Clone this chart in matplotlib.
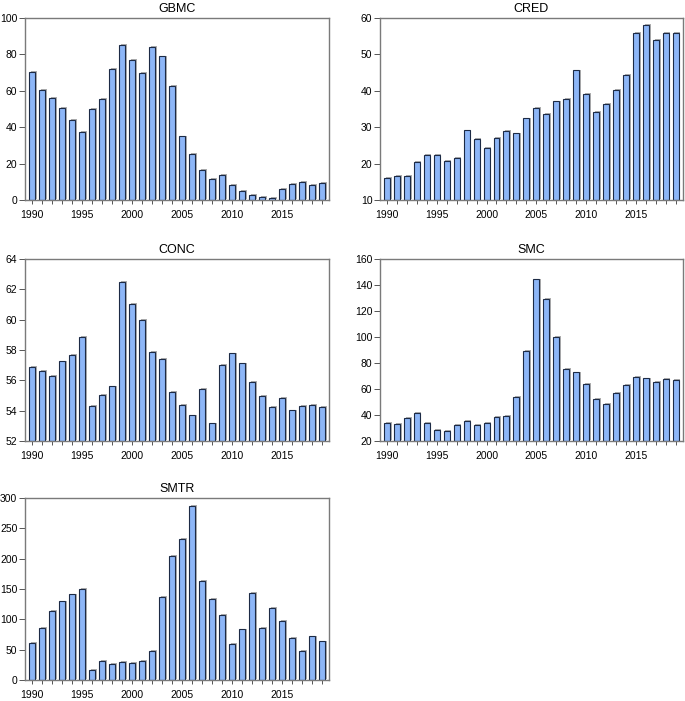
import matplotlib.pyplot as plt
import matplotlib.patheffects as pe
import numpy as np
from matplotlib.ticker import MultipleLocator

plt.rcParams["font.family"] = ["Liberation Sans", "DejaVu Sans"]

years = np.arange(1990, 2020)

gbmc = [70.6, 60.4, 56.1, 50.8, 43.9, 37.2, 50.1, 55.4, 71.9, 85.1,
        77.1, 69.7, 83.9, 78.9, 62.8, 34.9, 25.3, 16.5, 11.7, 13.8,
        8.3, 5.1, 2.9, 1.8, 1.3, 5.9, 9.0, 10.1, 8.3, 9.2]
cred = [16.1, 16.7, 16.7, 20.5, 22.3, 22.5, 20.8, 21.5, 29.1, 26.8,
        24.2, 27.1, 28.9, 28.3, 32.4, 35.4, 33.7, 37.1, 37.7, 45.6,
        39.1, 34.1, 36.3, 40.2, 44.3, 56.0, 58.1, 53.9, 56.0, 56.0]
conc = [56.86, 56.62, 56.31, 57.25, 57.69, 58.84, 54.33, 55.03, 55.6, 62.5,
        61.05, 60.0, 57.87, 57.43, 55.23, 54.37, 53.69, 55.45, 53.16, 57.0,
        57.78, 57.12, 55.91, 54.95, 54.24, 54.86, 54.02, 54.31, 54.40, 54.24]
smc = [33.7, 32.9, 37.5, 41.4, 34.2, 28.8, 27.5, 32.1, 35.2, 32.1,
       33.7, 38.3, 39.3, 54.0, 89.5, 144.3, 129.3, 100.0, 75.3, 72.8,
       63.8, 52.2, 48.4, 56.9, 63.0, 69.2, 68.2, 65.6, 67.7, 67.2]
smtr = [61.4, 86.1, 114.0, 129.5, 141.0, 149.8, 15.9, 31.3, 26.9, 29.1,
        28.0, 31.8, 48.3, 137.1, 204.6, 233.1, 287.4, 163.5, 133.8, 107.5,
        59.8, 83.4, 143.7, 85.6, 118.5, 97.1, 69.7, 48.3, 71.8, 63.6]

panels = [
    ("GBMC", gbmc, (0, 100), 20),
    ("CRED", cred, (10, 60), 10),
    ("CONC", conc, (52, 64), 2),
    ("SMC", smc, (20, 160), 20),
    ("SMTR", smtr, (0, 300), 50),
]

# axes boxes in figure fractions: left, bottom, width, height
boxes = [
    (0.0365, 0.7147, 0.4438, 0.2596),
    (0.5547, 0.7147, 0.4420, 0.2596),
    (0.0365, 0.3709, 0.4438, 0.2596),
    (0.5547, 0.3709, 0.4420, 0.2596),
    (0.0365, 0.0300, 0.4438, 0.2596),
]

fig = plt.figure(figsize=(6.85, 7.01), dpi=100)

for (title, values, ylim, ystep), box in zip(panels, boxes):
    ax = fig.add_axes(box)
    bars = ax.bar(years, np.array(values) - ylim[0], bottom=ylim[0], width=0.6,
                  color="#8db6f7", edgecolor="#1c2a45", linewidth=0.8)
    for b in bars:
        b.set_path_effects([
            pe.SimplePatchShadow(offset=(1.2, 0.6), shadow_rgbFace="#9a9a9a", alpha=0.8),
            pe.Normal(),
        ])
    ax.set_xlim(1989.3, 2019.7)
    ax.set_ylim(*ylim)
    ax.yaxis.set_major_locator(MultipleLocator(ystep))
    ax.set_xticks([1990, 1995, 2000, 2005, 2010, 2015])
    ax.xaxis.set_minor_locator(MultipleLocator(1))
    ax.tick_params(axis="y", which="major", labelsize=7.5, length=4,
                   width=0.7, color="#555555", pad=1.5)
    ax.tick_params(axis="x", which="major", labelsize=7.5, length=3,
                   width=0.7, color="#555555", pad=4)
    ax.tick_params(axis="x", which="minor", length=3, width=0.7, color="#555555")
    for sp in ax.spines.values():
        sp.set_color("#7a7a7a")
        sp.set_linewidth(1.0)
    ax.set_title(title, fontsize=9, pad=4)

fig.savefig("out.png", dpi=100)
